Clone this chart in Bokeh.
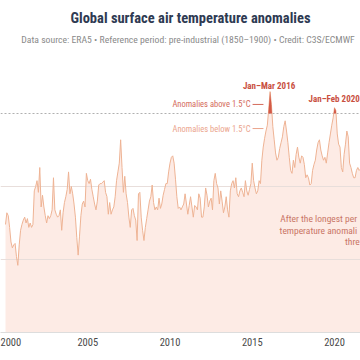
import numpy as np
from bokeh.plotting import figure
from bokeh.models import Span, Range1d, FixedTicker
from bokeh.core.properties import value
from bokeh.embed import file_html
from bokeh.resources import INLINE

# Monthly anomalies (°C vs 1850-1900)
a2000 = [0.74, 0.82, 0.80, 0.72, 0.62, 0.58, 0.60, 0.61, 0.52, 0.46, 0.60, 0.70]
a2001 = [0.74, 0.77, 0.79, 0.75, 0.78, 0.72, 0.75, 0.72, 0.74, 0.97, 1.00, 1.04]
a2002 = [0.96, 1.13, 0.86, 0.94, 0.86, 0.80, 0.75, 0.80, 0.78, 0.80, 0.84, 1.06]
a2003 = [0.84, 0.81, 0.79, 0.80, 0.84, 0.70, 0.82, 0.89, 0.93, 0.98, 1.10, 0.95]
a2004 = [1.00, 0.95, 0.88, 0.79, 0.65, 0.53, 0.66, 0.80, 0.88, 0.90, 0.86, 1.09]
a2005 = [1.04, 1.02, 1.05, 0.98, 0.93, 0.88, 0.84, 0.90, 1.01, 1.02, 1.02, 1.03]
a2006 = [1.04, 0.96, 0.93, 0.81, 0.89, 0.81, 0.84, 0.86, 0.93, 1.04, 1.10, 1.16]
a2007 = [1.32, 1.13, 0.96, 1.07, 0.95, 0.89, 0.79, 0.72, 0.84, 0.85, 0.80, 0.77]
a2008 = [0.63, 0.95, 0.96, 0.79, 0.70, 0.63, 0.72, 0.78, 0.84, 0.90, 0.93, 1.01]
a2009 = [0.89, 0.84, 0.86, 0.84, 0.92, 0.85, 0.88, 0.94, 0.98, 1.02, 1.02, 1.10]
a2010 = [1.16, 1.20, 1.21, 1.16, 1.05, 0.93, 0.85, 0.86, 0.84, 0.86, 0.88, 0.95]
a2011 = [0.88, 0.81, 0.87, 0.93, 0.86, 0.79, 0.87, 0.86, 0.84, 0.95, 0.92, 0.79]
a2012 = [0.79, 0.86, 0.99, 0.94, 0.86, 0.90, 0.92, 0.84, 1.04, 1.09, 1.02, 0.99]
a2013 = [0.88, 0.97, 0.90, 0.82, 0.86, 0.93, 0.84, 0.79, 0.97, 1.02, 1.04, 0.99]
a2014 = [1.06, 0.95, 0.93, 0.97, 0.99, 0.96, 0.93, 1.04, 0.97, 0.94, 0.98, 1.02]
a2015 = [1.16, 1.04, 0.99, 0.95, 0.97, 1.04, 1.02, 1.18, 1.27, 1.33, 1.38, 1.42]
a2016 = [1.53, 1.65, 1.56, 1.41, 1.32, 1.23, 1.18, 1.20, 1.26, 1.30, 1.34, 1.41]
a2017 = [1.45, 1.38, 1.30, 1.20, 1.11, 1.09, 1.18, 1.13, 1.22, 1.27, 1.20, 1.16]
a2018 = [1.21, 1.20, 1.15, 1.06, 1.08, 1.06, 1.01, 1.02, 1.11, 1.15, 1.18, 1.25]
a2019 = [1.30, 1.32, 1.25, 1.21, 1.18, 1.20, 1.16, 1.23, 1.30, 1.36, 1.42, 1.47]
a2020 = [1.54, 1.52, 1.36, 1.29, 1.27, 1.13, 1.10, 1.22, 1.29, 1.38, 1.34, 1.16]
a2021 = [1.13, 1.09, 1.06, 1.06, 1.11, 1.13, 1.11, 1.12]

first_year = 2000
threshold = 1.5
ref_levels = [0.5, 1.0]
x_ticks = [2000, 2005, 2010, 2015, 2020]

title_text = "Global surface air temperature anomalies"
subtitle_text = "Data source: ERA5 \u2022 Reference period: pre-industrial (1850\u20131900) \u2022 Credit: C3S/ECMWF"
peak_labels = ["Jan\u2013Mar 2016", "Jan\u2013Feb 2020"]
peak_periods = [(2016, 0, 3), (2020, 0, 2)]
legend_above = "Anomalies above 1.5\u00b0C"
legend_below = "Anomalies below 1.5\u00b0C"
note_lines = ["After the longest per", "temperature anomali", "thre"]

vals = np.array(a2000 + a2001 + a2002 + a2003 + a2004 + a2005 + a2006 + a2007 +
                a2008 + a2009 + a2010 + a2011 + a2012 + a2013 + a2014 + a2015 +
                a2016 + a2017 + a2018 + a2019 + a2020 + a2021)
t = first_year + np.arange(len(vals)) / 12.0

FONT = "'Liberation Sans Narrow', 'Roboto Condensed', Roboto, sans-serif"
PINK = "#fdebe5"
LINE = "#eeb394"
RED = "#d35a48"
DARK_RED = "#c9503f"

# frame spans the full canvas above the axis; header lives in the top band
p = figure(width=360, height=360,
           x_range=Range1d(1999.696, 2021.58), y_range=Range1d(0, 2.274),
           output_backend="svg", toolbar_location=None, y_axis_location=None,
           min_border_left=0, min_border_right=0, min_border_top=0, min_border_bottom=28,
           outline_line_color=None, background_fill_color="white", border_fill_color="white")

# fill below curve
r = p.varea(x=t, y1=0, y2=vals, fill_color=PINK)
r.level = "image"

p.xgrid.visible = False
p.ygrid.ticker = FixedTicker(ticks=ref_levels)
p.ygrid.grid_line_color = "#e8dedb"
p.ygrid.grid_line_width = 1

p.add_layout(Span(location=threshold, dimension="width", line_color="#b0b0b0",
                  line_dash="2 2", line_width=1, level="underlay"))

p.line(t, vals, line_color=LINE, line_width=1)

# red fill above threshold
xs, ys = [], []
for i in range(len(t)):
    if i > 0 and (vals[i-1] - threshold) * (vals[i] - threshold) < 0:
        tc = t[i-1] + (threshold - vals[i-1]) / (vals[i] - vals[i-1]) * (t[i] - t[i-1])
        xs.append(tc); ys.append(threshold)
    xs.append(t[i]); ys.append(vals[i])
ys_clip = np.maximum(np.array(ys), threshold)
p.varea(x=xs, y1=threshold, y2=ys_clip, fill_color=RED)

# peak labels
label_dx = [-1, -1]
label_dy = [-1, -4]
for lab, (yy, m0, n), dx, dy in zip(peak_labels, peak_periods, label_dx, label_dy):
    idx = (yy - first_year) * 12 + m0
    seg_t = t[idx:idx+n]
    seg_v = vals[idx:idx+n]
    p.text(x=[seg_t.mean()], y=[seg_v.max()], text=[lab], text_align="center",
           text_baseline="bottom", y_offset=dy, x_offset=dx, text_font=value(FONT),
           text_font_style="bold", text_font_size="9px", text_color=DARK_RED)

# legend-like labels
p.text(x=[2014.894], y=[1.562], text=[legend_above], text_align="right",
       text_baseline="middle", text_font=value(FONT), text_font_size="8.5px",
       text_color="#d46b5b")
p.segment(x0=[2015.02], y0=[1.562], x1=[2015.68], y1=[1.562], line_color="#d46b5b", line_width=1)
p.text(x=[2014.894], y=[1.397], text=[legend_below], text_align="right",
       text_baseline="middle", text_font=value(FONT), text_font_size="8.5px",
       text_color="#eba58d")
p.segment(x0=[2015.02], y0=[1.397], x1=[2015.68], y1=[1.397], line_color="#eba58d", line_width=1)

# note text fragments (as visible in the reference)
p.text(x=[2016.70, 2016.66, 2020.64], y=[0.78, 0.70, 0.62], text=note_lines,
       text_align="left", text_baseline="middle", text_font=value(FONT),
       text_font_size="9.5px", text_color="#c97565")

# header (title + subtitle)
p.text(x=[2011.246], y=[2.151], text=[title_text], text_align="center",
       text_baseline="middle", text_font=value(FONT), text_font_style="bold",
       text_font_size="14.5px", text_color="#2e3a52")
p.text(x=[2011.094], y=[2.007], text=[subtitle_text], text_align="center",
       text_baseline="middle", text_font=value(FONT), text_font_size="9.7px",
       text_color="#8a8a8a")

# axis
p.xaxis.ticker = FixedTicker(ticks=x_ticks)
p.xaxis.axis_line_color = "#dddddd"
p.xaxis.major_tick_line_color = None
p.xaxis.minor_tick_line_color = None
p.xaxis.major_tick_out = 0
p.xaxis.major_tick_in = 0
p.xaxis.major_label_standoff = 5
p.xaxis.major_label_text_font = FONT
p.xaxis.major_label_text_font_size = "10.5px"
p.xaxis.major_label_text_color = "#4a4a4a"

open("out.html", "w").write(file_html(p, INLINE))
